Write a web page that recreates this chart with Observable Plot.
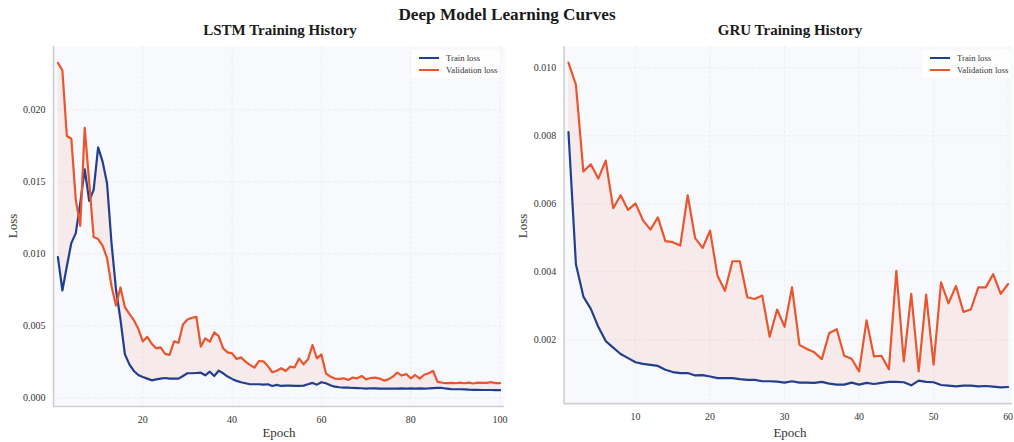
<!DOCTYPE html>
<html><head><meta charset="utf-8">
<script src="https://cdn.jsdelivr.net/npm/d3@7"></script>
<script src="https://cdn.jsdelivr.net/npm/@observablehq/plot@0.6"></script>
<style>
html,body{margin:0;padding:0;background:#fff;overflow:hidden}
#fig{position:relative;width:1014px;height:442px;overflow:hidden;font-family:"Liberation Serif","Times New Roman",serif;color:#222}
.abs{position:absolute;white-space:nowrap}
.title{left:0;width:1014px;top:5px;text-align:center;font-weight:bold;font-size:17.2px;line-height:20px;color:#1a1a1a}
.sub{font-weight:bold;font-size:15px;line-height:16px;text-align:center;top:22px;color:#1a1a1a}
.xl{font-size:13px;line-height:14px;text-align:center;top:426px;color:#333}
.yl{font-size:13px;line-height:14px;width:40px;text-align:center;transform:rotate(-90deg);color:#333}
.lgbox{background:rgba(255,255,255,0.8);border-radius:2px}
.sw{height:2.4px}
.lt{font-size:8.7px;line-height:10px;color:#333}
svg{overflow:visible}
</style></head>
<body><div id="fig">
<div class="abs title">Deep Model Learning Curves</div>
<div class="abs sub" style="left:130px;width:300px">LSTM Training History</div>
<div class="abs sub" style="left:640px;width:300px">GRU Training History</div>
<div id="p1" class="abs" style="left:0;top:38px"></div>
<div id="p2" class="abs" style="left:510px;top:38px"></div>
<div class="abs xl" style="left:229px;width:100px">Epoch</div>
<div class="abs xl" style="left:740px;width:100px">Epoch</div>
<div class="abs yl" style="left:-7px;top:219px">Loss</div>
<div class="abs yl" style="left:503px;top:219px">Loss</div>
<div id="legends"></div>
</div>
<script>
const seriesNames = ["Train loss", "Validation loss"];
const seriesColors = ["#213f8e", "#e9552f"];

const lstmEpochs = d3.range(1, 101);
const lstmTrain = [
0.00979,0.00747,0.00915,0.01076,0.01145,0.01353,0.01588,0.01369,0.01445,0.01740,
0.01641,0.01491,0.01076,0.00754,0.00546,0.00304,0.00235,0.00189,0.00161,0.00147,
0.00136,0.00124,0.00131,0.00136,0.00140,0.00136,0.00136,0.00136,0.00154,0.00173,
0.00173,0.00175,0.00177,0.00159,0.00184,0.00154,0.00191,0.00173,0.00150,0.00134,
0.00120,0.00111,0.00104,0.00097,0.00097,0.00097,0.00094,0.00097,0.00085,0.00092,
0.00085,0.00087,0.00087,0.00085,0.00085,0.00087,0.00097,0.00106,0.00094,0.00111,
0.00104,0.00090,0.00080,0.00076,0.00074,0.00074,0.00071,0.00070,0.00069,0.00067,
0.00069,0.00068,0.00067,0.00067,0.00067,0.00066,0.00067,0.00068,0.00067,0.00068,
0.00067,0.00068,0.00067,0.00068,0.00070,0.00071,0.00071,0.00067,0.00063,0.00062,
0.00062,0.00061,0.00059,0.00058,0.00058,0.00057,0.00057,0.00057,0.00056,0.00056];
const lstmVal = [
0.02326,0.02275,0.01819,0.01800,0.01376,0.01196,0.01876,0.01500,0.01118,0.01104,
0.01058,0.00972,0.00777,0.00643,0.00768,0.00632,0.00585,0.00541,0.00481,0.00394,
0.00426,0.00378,0.00346,0.00353,0.00308,0.00301,0.00394,0.00385,0.00512,0.00546,
0.00558,0.00565,0.00358,0.00415,0.00392,0.00456,0.00431,0.00346,0.00318,0.00311,
0.00272,0.00283,0.00254,0.00231,0.00212,0.00258,0.00256,0.00223,0.00180,0.00191,
0.00208,0.00189,0.00219,0.00214,0.00276,0.00235,0.00270,0.00369,0.00276,0.00304,
0.00173,0.00150,0.00136,0.00134,0.00138,0.00127,0.00143,0.00138,0.00154,0.00131,
0.00140,0.00143,0.00136,0.00122,0.00131,0.00150,0.00178,0.00157,0.00168,0.00138,
0.00161,0.00136,0.00163,0.00173,0.00189,0.00113,0.00108,0.00104,0.00106,0.00104,
0.00108,0.00104,0.00108,0.00102,0.00108,0.00106,0.00106,0.00112,0.00104,0.00104];

const gruEpochs = d3.range(1, 61);
const gruTrain = [
0.00811,0.00422,0.00327,0.00291,0.00238,0.00196,0.00177,0.00158,0.00146,0.00134,
0.00129,0.00126,0.00123,0.00112,0.00105,0.00102,0.00102,0.00095,0.00096,0.00092,
0.00087,0.00087,0.00087,0.00084,0.00082,0.00082,0.00078,0.00078,0.00077,0.00074,
0.00078,0.00074,0.00074,0.00073,0.00076,0.00071,0.00068,0.00068,0.00074,0.00068,
0.00073,0.00070,0.00073,0.00076,0.00076,0.00075,0.00066,0.00080,0.00076,0.00075,
0.00067,0.00065,0.00063,0.00065,0.00065,0.00063,0.00064,0.00062,0.00060,0.00061];
const gruVal = [
0.01015,0.00950,0.00695,0.00716,0.00674,0.00727,0.00587,0.00625,0.00582,0.00601,
0.00551,0.00524,0.00560,0.00490,0.00487,0.00477,0.00625,0.00499,0.00470,0.00521,
0.00388,0.00344,0.00431,0.00431,0.00325,0.00320,0.00330,0.00209,0.00289,0.00238,
0.00354,0.00185,0.00173,0.00163,0.00143,0.00220,0.00231,0.00153,0.00144,0.00107,
0.00257,0.00151,0.00153,0.00113,0.00403,0.00136,0.00335,0.00107,0.00333,0.00127,
0.00369,0.00307,0.00358,0.00282,0.00289,0.00354,0.00354,0.00393,0.00335,0.00364];

const lstmXTicks = [20, 40, 60, 80, 100];
const lstmYTicks = [0, 0.005, 0.010, 0.015, 0.020];
const gruXTicks = [10, 20, 30, 40, 50, 60];
const gruYTicks = [0.002, 0.004, 0.006, 0.008, 0.010];

function panel({epochs, train, val, xTicks, yTicks, width, marginLeft, marginRight}) {
  const rows = epochs.map((e, i) => ({epoch: e, train: train[i], val: val[i]}));
  const [x0, x1] = d3.extent(epochs);
  const px = (x1 - x0) * 0.01;
  const [y0, y1] = d3.extent(train.concat(val));
  const py = (y1 - y0) * 0.05;
  const xd = [x0 - px, x1 + px], yd = [y0 - py, y1 + py];
  const grid = {stroke: "#e9eaf2", strokeOpacity: 1, strokeWidth: 0.8, strokeDasharray: "3,2"};
  const spine = {stroke: "#cfcfd2", strokeWidth: 1.6};
  return Plot.plot({
    width, height: 404, marginLeft, marginRight, marginTop: 8, marginBottom: 36,
    style: {fontFamily: '"Liberation Serif", "Times New Roman", serif', fontSize: "10px", color: "#333", background: "transparent", overflow: "visible"},
    x: {domain: xd}, y: {domain: yd},
    marks: [
      Plot.frame({fill: "#f8f9fd", stroke: "none"}),
      Plot.gridX(xTicks, grid),
      Plot.gridY(yTicks, grid),
      Plot.areaY(rows, {x: "epoch", y1: "train", y2: "val", fill: seriesColors[1], fillOpacity: 0.09}),
      Plot.lineY(rows, {x: "epoch", y: "train", stroke: seriesColors[0], strokeWidth: 2.2}),
      Plot.lineY(rows, {x: "epoch", y: "val", stroke: seriesColors[1], strokeWidth: 2.2}),
      Plot.ruleX([xd[0]], spine),
      Plot.ruleY([yd[0]], spine),
      Plot.axisX(xTicks, {tickSize: 0, tickPadding: 9, label: null, fill: "#333"}),
      Plot.axisY(yTicks, {tickSize: 0, tickPadding: 8, label: null, tickFormat: ".3f", fill: "#333"})
    ]
  });
}

document.getElementById("p1").append(panel({epochs: lstmEpochs, train: lstmTrain, val: lstmVal,
  xTicks: lstmXTicks, yTicks: lstmYTicks, width: 510, marginLeft: 53, marginRight: 6}));
document.getElementById("p2").append(panel({epochs: gruEpochs, train: gruTrain, val: gruVal,
  xTicks: gruXTicks, yTicks: gruYTicks, width: 508, marginLeft: 54, marginRight: 2}));

// legends
const lg = document.getElementById("legends");
for (const bx of [411, 922]) {
  let h = `<div class="abs lgbox" style="left:${bx}px;top:50px;width:89px;height:28px"></div>`;
  seriesNames.forEach((n, i) => {
    const cy = 58.3 + i * 12;
    h += `<div class="abs sw" style="left:${bx + 8}px;top:${cy - 1.2}px;width:20px;background:${seriesColors[i]}"></div>`;
    h += `<div class="abs lt" style="left:${bx + 35}px;top:${cy - 5.5}px">${n}</div>`;
  });
  lg.insertAdjacentHTML("beforeend", h);
}
</script>
</body></html>
